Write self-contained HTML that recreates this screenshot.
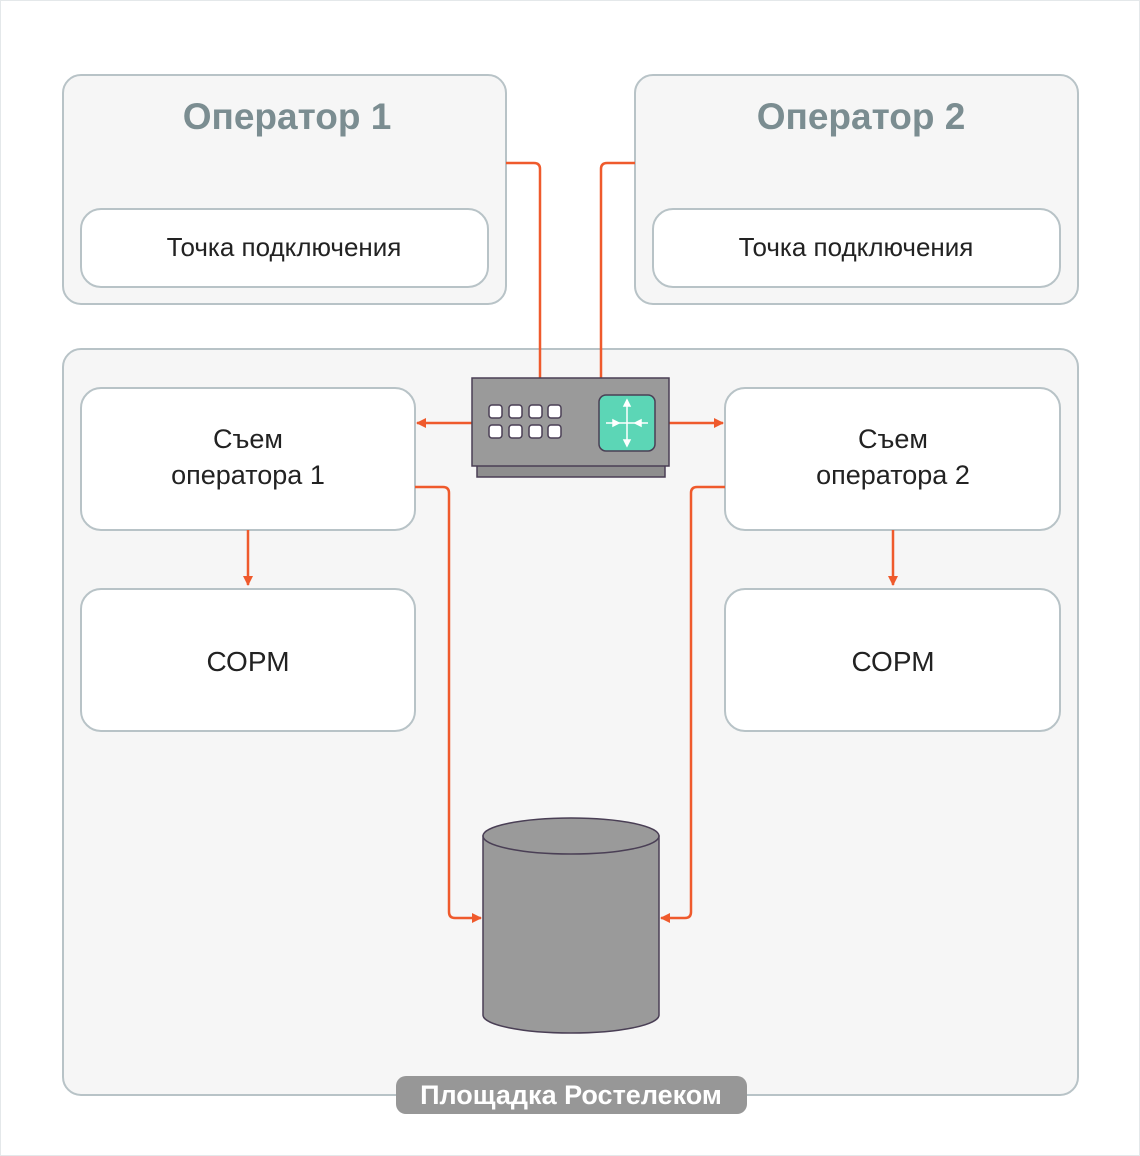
<!DOCTYPE html>
<html><head><meta charset="utf-8"><style>
html,body{margin:0;padding:0;background:#fff;}
svg{display:block;}
text{font-family:"Liberation Sans",sans-serif;}
</style></head><body>
<svg width="1140" height="1156" viewBox="0 0 1140 1156" xmlns="http://www.w3.org/2000/svg">
<defs>
<marker id="a" markerWidth="10" markerHeight="10" refX="9" refY="5" orient="auto" markerUnits="userSpaceOnUse">
<path d="M0,0 L10,5 L0,10 z" fill="#ef5a2c"/></marker>
</defs>
<rect x="0" y="0" width="1140" height="1156" fill="#fff"/>
<rect x="0.5" y="0.5" width="1139" height="1155" fill="none" stroke="#e4e8ea"/>
<!-- operators -->
<rect x="63" y="75" width="443" height="229" rx="18" fill="#f6f6f6" stroke="#b8c3c7" stroke-width="2"/>
<rect x="635" y="75" width="443" height="229" rx="18" fill="#f6f6f6" stroke="#b8c3c7" stroke-width="2"/>
<text x="287" y="129" font-size="37" font-weight="bold" fill="#7b8d91" text-anchor="middle">Оператор 1</text>
<text x="861" y="129" font-size="37" font-weight="bold" fill="#7b8d91" text-anchor="middle">Оператор 2</text>
<rect x="81" y="209" width="407" height="78" rx="20" fill="#fff" stroke="#b8c3c7" stroke-width="2"/>
<rect x="653" y="209" width="407" height="78" rx="20" fill="#fff" stroke="#b8c3c7" stroke-width="2"/>
<text x="284" y="256" font-size="26" fill="#222" text-anchor="middle">Точка подключения</text>
<text x="856" y="256" font-size="26" fill="#222" text-anchor="middle">Точка подключения</text>
<!-- big -->
<rect x="63" y="349" width="1015" height="746" rx="18" fill="#f6f6f6" stroke="#b8c3c7" stroke-width="2"/>
<rect x="81" y="388" width="334" height="142" rx="20" fill="#fff" stroke="#b8c3c7" stroke-width="2"/>
<rect x="81" y="589" width="334" height="142" rx="20" fill="#fff" stroke="#b8c3c7" stroke-width="2"/>
<rect x="725" y="388" width="335" height="142" rx="20" fill="#fff" stroke="#b8c3c7" stroke-width="2"/>
<rect x="725" y="589" width="335" height="142" rx="20" fill="#fff" stroke="#b8c3c7" stroke-width="2"/>
<text x="248" y="448" font-size="27" fill="#222" text-anchor="middle">Съем</text>
<text x="248" y="484" font-size="27" fill="#222" text-anchor="middle">оператора 1</text>
<text x="893" y="448" font-size="27" fill="#222" text-anchor="middle">Съем</text>
<text x="893" y="484" font-size="27" fill="#222" text-anchor="middle">оператора 2</text>
<text x="248" y="671" font-size="28" fill="#222" text-anchor="middle">СОРМ</text>
<text x="893" y="671" font-size="28" fill="#222" text-anchor="middle">СОРМ</text>
<!-- lines -->
<g fill="none" stroke="#ef5a2c" stroke-width="2.5">
<path d="M506,163 H534 Q540,163 540,169 V378"/>
<path d="M635,163 H607 Q601,163 601,169 V378"/>
<path d="M472,423 H417" marker-end="url(#a)"/>
<path d="M669,423 H723" marker-end="url(#a)"/>
<path d="M415,487 H443 Q449,487 449,493 V912 Q449,918 455,918 H481" marker-end="url(#a)"/>
<path d="M725,487 H697 Q691,487 691,493 V912 Q691,918 685,918 H661" marker-end="url(#a)"/>
<path d="M248,530 V585" marker-end="url(#a)"/>
<path d="M893,530 V585" marker-end="url(#a)"/>
</g>
<!-- switch -->
<rect x="477" y="464" width="188" height="13" fill="#8e8e8e" stroke="#4a3f55" stroke-width="1.5"/>
<rect x="472" y="378" width="197" height="88" fill="#9a9a9a" stroke="#4a3f55" stroke-width="1.5"/>
<g fill="#fff" stroke="#4a3f55" stroke-width="1.5">
<rect x="489" y="405" width="13" height="13" rx="3"/><rect x="509" y="405" width="13" height="13" rx="3"/><rect x="529" y="405" width="13" height="13" rx="3"/><rect x="548" y="405" width="13" height="13" rx="3"/>
<rect x="489" y="425" width="13" height="13" rx="3"/><rect x="509" y="425" width="13" height="13" rx="3"/><rect x="529" y="425" width="13" height="13" rx="3"/><rect x="548" y="425" width="13" height="13" rx="3"/>
</g>
<rect x="599" y="395" width="56" height="56" rx="7" fill="#5cd6b6" stroke="#4a3f55" stroke-width="1.5"/>
<g stroke="#fff" stroke-width="1.5" fill="#fff">
<path d="M627,402 V444 M606,423 H648" fill="none"/>
<path d="M627,400 l-3,6 h6z M627,446 l-3,-6 h6z M619,423 l-6,-3 v6z M635,423 l6,-3 v6z"/>
</g>
<!-- cylinder -->
<path d="M483,836 V1015 A88,18 0 0 0 659,1015 V836 Z" fill="#9a9a9a" stroke="#4a3f55" stroke-width="1.5"/>
<ellipse cx="571" cy="836" rx="88" ry="18" fill="#9a9a9a" stroke="#4a3f55" stroke-width="1.5"/>
<!-- label -->
<rect x="396" y="1076" width="351" height="38" rx="10" fill="#979797"/>
<text x="571" y="1104" font-size="27" font-weight="bold" fill="#fff" text-anchor="middle">Площадка Ростелеком</text>
</svg>
</body></html>
